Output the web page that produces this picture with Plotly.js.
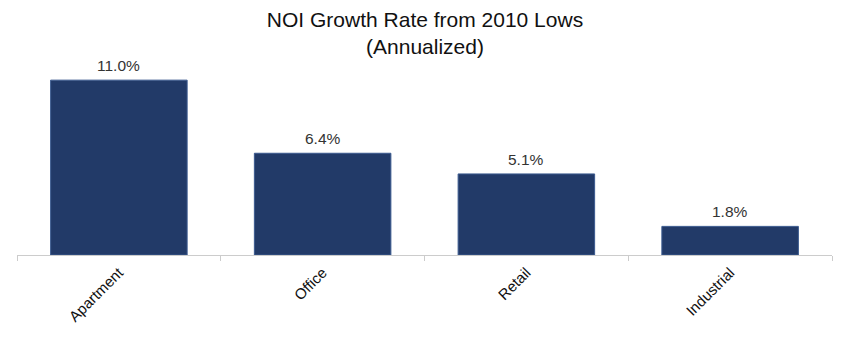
<!DOCTYPE html>
<html>
<head>
<meta charset="utf-8">
<script src="https://cdn.plot.ly/plotly-3.0.1.min.js"></script>
<style>html,body{margin:0;padding:0;background:#fff;}#chart{width:850px;height:337px;}</style>
</head>
<body>
<div id="chart"></div>
<script>
const categories = ["Apartment", "Office", "Retail", "Industrial"];
const growthRates = [11.0, 6.4, 5.1, 1.8];
const valueLabels = ["11.0%", "6.4%", "5.1%", "1.8%"];

const trace = {
  type: "bar",
  x: categories,
  y: growthRates,
  marker: {color: "#223a68", line: {color: "#3b5a8f", width: 1}},
  hoverinfo: "x+y"
};

const annotations = categories.map((c, i) => ({
  x: c,
  y: growthRates[i],
  xref: "x",
  yref: "y",
  text: valueLabels[i],
  showarrow: false,
  yanchor: "bottom",
  yshift: 4,
  font: {family: "Liberation Sans, Arial, sans-serif", size: 15.5, color: "#333333"}
}));

const layout = {
  width: 850,
  height: 337,
  margin: {l: 17, r: 18, t: 59, b: 82},
  paper_bgcolor: "#ffffff",
  plot_bgcolor: "#ffffff",
  bargap: 0.33,
  showlegend: false,
  annotations: annotations,
  title: {
    text: "NOI Growth Rate from 2010 Lows<br>(Annualized)",
    x: 0.5, xanchor: "center",
    yref: "container",
    y: 0.92, yanchor: "middle",
    font: {family: "Liberation Sans, Arial, sans-serif", size: 21, color: "#111111"}
  },
  xaxis: {
    type: "category",
    tickson: "boundaries",
    ticks: "outside",
    ticklen: 5,
    tickcolor: "#cccccc",
    showline: true,
    linecolor: "#cccccc",
    linewidth: 1,
    tickangle: -45,
    ticklabelstandoff: 2,
    tickfont: {family: "Liberation Sans, Arial, sans-serif", size: 15, color: "#111111"},
    showgrid: false,
    zeroline: false
  },
  yaxis: {
    range: [0, 12.33],
    visible: false,
    showgrid: false,
    zeroline: false
  }
};

Plotly.newPlot("chart", [trace], layout, {displayModeBar: false, staticPlot: true});
</script>
</body>
</html>
